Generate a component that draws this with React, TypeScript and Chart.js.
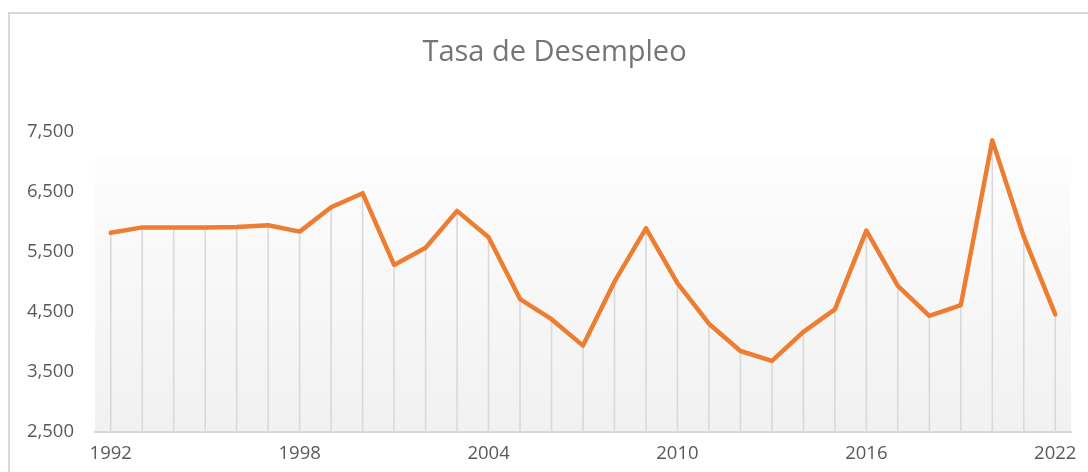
import React, { useEffect, useRef } from "react";
import { Chart, registerables } from "chart.js";

Chart.register(...registerables);

const TITLE = "Tasa de Desempleo";

const YEARS: string[] = [
  "1992", "1993", "1994", "1995", "1996", "1997", "1998", "1999", "2000", "2001",
  "2002", "2003", "2004", "2005", "2006", "2007", "2008", "2009", "2010", "2011",
  "2012", "2013", "2014", "2015", "2016", "2017", "2018", "2019", "2020", "2021",
  "2022",
];

const UNEMPLOYMENT: number[] = [
  5820, 5910, 5910, 5910, 5915, 5945, 5840, 6245, 6480, 5285,
  5570, 6185, 5745, 4715, 4380, 3940, 5005, 5895, 4980, 4305,
  3850, 3685, 4170, 4545, 5855, 4935, 4435, 4615, 7360, 5755,
  4460,
];

const Y_MIN = 2500;
const Y_MAX = 8500;
const Y_STEP = 1000;
const Y_LAST_LABEL = 7500;
const X_LABEL_EVERY = 6;
const GRADIENT_TOP_VALUE = 7080;

const FONT = "'Open Sans', 'Noto Sans', sans-serif";

const decorPlugin = {
  id: "decor",
  beforeDraw(chart: any) {
    const { ctx, chartArea, scales } = chart;
    const top = scales.y.getPixelForValue(GRADIENT_TOP_VALUE);
    const g = ctx.createLinearGradient(0, top, 0, chartArea.bottom);
    g.addColorStop(0, "#fdfdfd");
    g.addColorStop(1, "#f1f1f1");
    ctx.save();
    ctx.fillStyle = g;
    ctx.fillRect(chartArea.left, top, chartArea.right - chartArea.left, chartArea.bottom - top);
    ctx.restore();
  },
  beforeDatasetsDraw(chart: any) {
    const { ctx, chartArea } = chart;
    const meta = chart.getDatasetMeta(0);
    ctx.save();
    ctx.strokeStyle = "#d9d9d9";
    ctx.lineWidth = 1.6;
    meta.data.forEach((p: any) => {
      ctx.beginPath();
      ctx.moveTo(p.x, p.y);
      ctx.lineTo(p.x, chartArea.bottom);
      ctx.stroke();
    });
    ctx.restore();
  },
  afterDraw(chart: any) {
    const { ctx } = chart;
    ctx.save();
    ctx.font = `29px ${FONT}`;
    ctx.fillStyle = "#757575";
    ctx.textAlign = "center";
    ctx.textBaseline = "alphabetic";
    ctx.fillText(TITLE, 544.5, 47);
    ctx.restore();
  },
};

export default function App() {
  const ref = useRef<HTMLCanvasElement | null>(null);

  useEffect(() => {
    if (!ref.current) return;
    const chart = new Chart(ref.current, {
      type: "line",
      data: {
        labels: YEARS,
        datasets: [
          {
            label: TITLE,
            data: UNEMPLOYMENT,
            borderColor: "#ED7D31",
            borderWidth: 4.5,
            borderJoinStyle: "round",
            borderCapStyle: "round",
            pointRadius: 0,
            pointHoverRadius: 0,
            tension: 0,
            fill: false,
          },
        ],
      },
      options: {
        responsive: false,
        animation: false,
        layout: { padding: { top: 58, right: 17, left: 0, bottom: 0 } },
        plugins: {
          legend: { display: false },
          title: { display: false },
          tooltip: { enabled: false },
        },
        scales: {
          x: {
            offset: true,
            grid: { display: false, drawTicks: false },
            border: { display: true, color: "#d9d9d9", width: 2 },
            ticks: {
              autoSkip: false,
              maxRotation: 0,
              padding: 11,
              color: "#595959",
              font: { family: FONT, size: 18.5 },
              callback: (_v: any, i: number) => (i % X_LABEL_EVERY === 0 ? YEARS[i] : ""),
            },
            afterFit: (s: any) => {
              s.height = 40;
            },
          },
          y: {
            min: Y_MIN,
            max: Y_MAX,
            grid: { display: false, drawTicks: false },
            border: { display: false },
            ticks: {
              stepSize: Y_STEP,
              padding: 21,
              color: "#595959",
              font: { family: FONT, size: 18.5 },
              callback: (v: any) => Number(v).toLocaleString("en-US"),
            },
            afterBuildTicks: (s: any) => {
              s.ticks = s.ticks.filter((t: any) => t.value <= Y_LAST_LABEL);
            },
            afterFit: (s: any) => {
              s.width = 85;
            },
          },
        },
      },
      plugins: [decorPlugin],
    });
    return () => chart.destroy();
  }, []);

  return (
    <div
      style={{
        position: "absolute",
        left: 8,
        top: 12,
        width: 1080,
        height: 460,
        boxSizing: "border-box",
        borderLeft: "2px solid #d9d9d9",
        borderTop: "2px solid #d9d9d9",
        background: "#ffffff",
      }}
    >
      <canvas ref={ref} width={1078} height={458} style={{ display: "block" }} />
    </div>
  );
}
